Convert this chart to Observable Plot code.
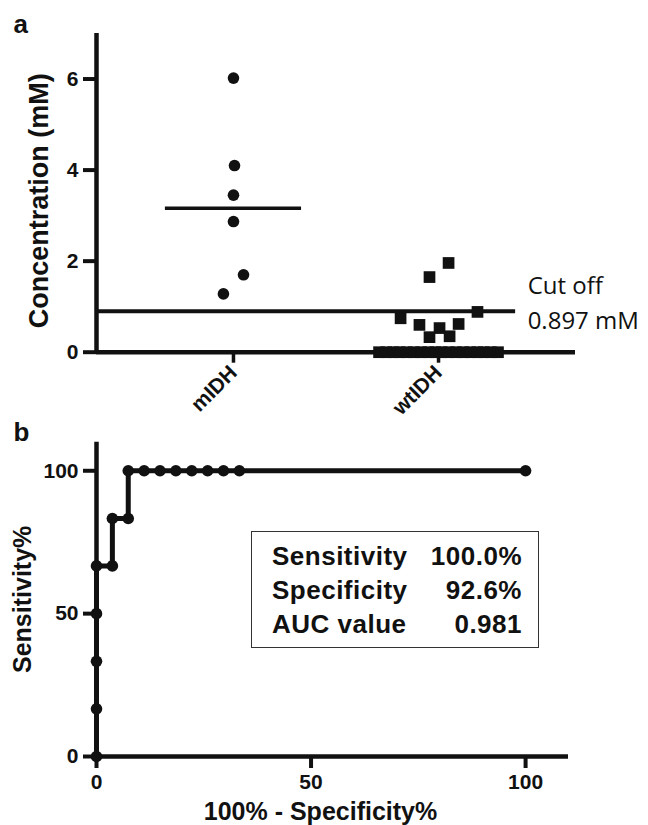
<!DOCTYPE html>
<html>
<head>
<meta charset="utf-8">
<script src="https://cdn.jsdelivr.net/npm/d3@7"></script>
<script src="https://cdn.jsdelivr.net/npm/@observablehq/plot@0.6"></script>
<style>
  body { margin: 0; background: #fff; }
  #wrap { position: relative; width: 648px; height: 825px; font-family: "Liberation Sans", Arial, sans-serif; color: #111; }
  #wrap svg { display: block; }
  #wrap svg g[aria-label$="tick label"] { font-weight: bold; font-size: 21px; fill: #111; }
  #pa g[aria-label="x-axis tick label"] { font-size: 19px; }
  #box { position: absolute; left: 251px; top: 531px; width: 288px; height: 117px; box-sizing: border-box;
         border: 1.5px solid #333; padding: 6.5px 16px 0 20px; font-weight: bold; font-size: 26px;
         letter-spacing: 0.5px; line-height: 34px; background: #fff; }
  #box .row { display: flex; justify-content: space-between; white-space: pre; }
</style>
</head>
<body>
<div id="wrap"></div>
<script>
// ---------- Panel a data ----------
const groups = ["mIDH", "wtIDH"];
const mIDHValues = [6.02, 4.10, 3.45, 2.87, 1.70, 1.28];
const mIDHSpread = [0, 0.005, 0, 0, 0.049, -0.049];
const wtIDHValues = [1.96, 1.65, 0.885, 0.745, 0.62, 0.60, 0.53, 0.35, 0.33,
  0, 0, 0, 0, 0, 0, 0, 0, 0, 0, 0, 0, 0, 0, 0, 0, 0, 0];
const wtIDHSpread = [0.049, -0.044, 0.19, -0.185, 0.098, -0.093, 0.005, 0.054, -0.044,
  -0.29, -0.255, -0.22, -0.19, -0.155, -0.12, -0.085, -0.05, -0.015,
  0.015, 0.05, 0.085, 0.12, 0.155, 0.19, 0.22, 0.255, 0.29];
const cutoff = 0.897;
const cutoffLabel = ["Cut off", "0.897 mM"];
const yTicksA = [0, 2, 4, 6];
const xTicksA = [1, 2];

// ---------- Panel b data ----------
const rocFPR  = [0, 0, 0, 0, 0, 3.7, 3.7, 7.4, 7.4, 11.1, 14.8, 18.5, 22.2, 25.9, 29.6, 33.3, 100];
const rocSens = [0, 16.7, 33.3, 50, 66.7, 66.7, 83.3, 83.3, 100, 100, 100, 100, 100, 100, 100, 100, 100];
const ticksB = [0, 50, 100];
const statLabels = ["Sensitivity", "Specificity", "AUC value"];
const statValues = ["100.0%", "92.6%", "0.981"];

// ---------- build ----------
const ink = "#111";
const font = "'Liberation Sans', Arial, sans-serif";
const xDomA = [0.332, 2.668];
const halfW = 0.332;
const cutoffEnd = 2.376;

const mPts = mIDHValues.map((v, i) => ({x: 1 + mIDHSpread[i], v}));
const wPts = wtIDHValues.map((v, i) => ({x: 2 + wtIDHSpread[i], v}));
const medians = [mIDHValues, wtIDHValues].map((vals, i) => ({g: i + 1, m: d3.median(vals)}));

const plotA = Plot.plot({
  width: 648, height: 420,
  marginTop: 33, marginBottom: 68.3, marginLeft: 96, marginRight: 73,
  x: {domain: xDomA, ticks: xTicksA, tickFormat: d => groups[d - 1], tickRotate: -45,
      tickSize: 0, tickPadding: 17, label: null},
  y: {domain: [0, 7], ticks: yTicksA, tickFormat: d => String(d), tickSize: 0, tickPadding: 18, label: null},
  style: {fontFamily: font, fontSize: "21px", fontWeight: "bold", color: ink, background: "transparent", overflow: "visible"},
  marks: [
    Plot.ruleY([cutoff], {x1: xDomA[0], x2: cutoffEnd, strokeWidth: 4, stroke: ink}),
    Plot.ruleY(medians, {y: "m", x1: d => d.g - halfW, x2: d => d.g + halfW, strokeWidth: 3.5, stroke: ink}),
    Plot.ruleX([xDomA[0]], {strokeWidth: 4.5, stroke: ink}),
    Plot.ruleY([0], {strokeWidth: 4.5, stroke: ink}),
    Plot.ruleY(yTicksA, {x1: xDomA[0], x2: xDomA[0], insetLeft: -13, strokeWidth: 4, stroke: ink}),
    Plot.ruleX(xTicksA, {y1: 0, y2: 0, insetBottom: -11, strokeWidth: 3.5, stroke: ink}),
    Plot.dot(mPts, {x: "x", y: "v", r: 5.8, fill: ink, symbol: "circle"}),
    Plot.dot(wPts, {x: "x", y: "v", r: 6.6, fill: ink, symbol: "square"}),
    Plot.text([cutoffLabel.join("\n")], {x: cutoffEnd, y: cutoff, text: d => d, dx: 12, dy: -11,
      textAnchor: "start", lineAnchor: "middle", lineHeight: 1.46, fontSize: 24, fontWeight: "normal",
      fontFamily: "'Open Sans', sans-serif", fill: ink}),
    Plot.text(["Concentration (mM)"], {text: d => d, frameAnchor: "left", rotate: -90, dx: -57, dy: 8,
      textAnchor: "middle", lineAnchor: "middle", fontSize: 27, fontWeight: "bold", fill: ink}),
    Plot.text(["a"], {text: d => d, frameAnchor: "top-left", dx: -83, dy: -1, textAnchor: "start",
      lineAnchor: "bottom", fontSize: 26, fontWeight: "bold", fill: ink})
  ]
});
plotA.id = "pa";

const roc = rocFPR.map((x, i) => ({x, y: rocSens[i]}));
const plotB = Plot.plot({
  width: 648, height: 405,
  marginTop: 21.7, marginBottom: 69, marginLeft: 96, marginRight: 80,
  x: {domain: [0, 110], ticks: ticksB, tickFormat: d => String(d), tickSize: 0, tickPadding: 18, label: null},
  y: {domain: [0, 110], ticks: ticksB, tickFormat: d => String(d), tickSize: 0, tickPadding: 18, label: null},
  style: {fontFamily: font, fontSize: "21px", fontWeight: "bold", color: ink, background: "transparent", overflow: "visible"},
  marks: [
    Plot.ruleX([0], {strokeWidth: 4.5, stroke: ink}),
    Plot.ruleY([0], {strokeWidth: 4.5, stroke: ink}),
    Plot.ruleY(ticksB, {x1: 0, x2: 0, insetLeft: -13, strokeWidth: 4, stroke: ink}),
    Plot.ruleX(ticksB, {y1: 0, y2: 0, insetBottom: -12, strokeWidth: 4, stroke: ink}),
    Plot.line(roc, {x: "x", y: "y", strokeWidth: 5, stroke: ink}),
    Plot.dot(roc, {x: "x", y: "y", r: 5.8, fill: ink}),
    Plot.text(["Sensitivity%"], {text: d => d, frameAnchor: "left", rotate: -90, dx: -74,
      textAnchor: "middle", lineAnchor: "middle", fontSize: 25, fontWeight: "bold", fill: ink}),
    Plot.text(["100% - Specificity%"], {text: d => d, frameAnchor: "bottom", dx: -12, dy: 55,
      textAnchor: "middle", lineAnchor: "middle", fontSize: 25, fontWeight: "bold", fill: ink}),
    Plot.text(["b"], {text: d => d, frameAnchor: "top-left", dx: -83, dy: -1.7, textAnchor: "start",
      lineAnchor: "bottom", fontSize: 26, fontWeight: "bold", fill: ink})
  ]
});
plotB.id = "pb";

const wrap = document.getElementById("wrap");
wrap.appendChild(plotA);
wrap.appendChild(plotB);

const box = document.createElement("div");
box.id = "box";
statLabels.forEach((lab, i) => {
  const row = document.createElement("div");
  row.className = "row";
  const a = document.createElement("span"); a.textContent = lab;
  const b = document.createElement("span"); b.textContent = statValues[i];
  row.appendChild(a); row.appendChild(b);
  box.appendChild(row);
});
wrap.appendChild(box);
</script>
</body>
</html>
